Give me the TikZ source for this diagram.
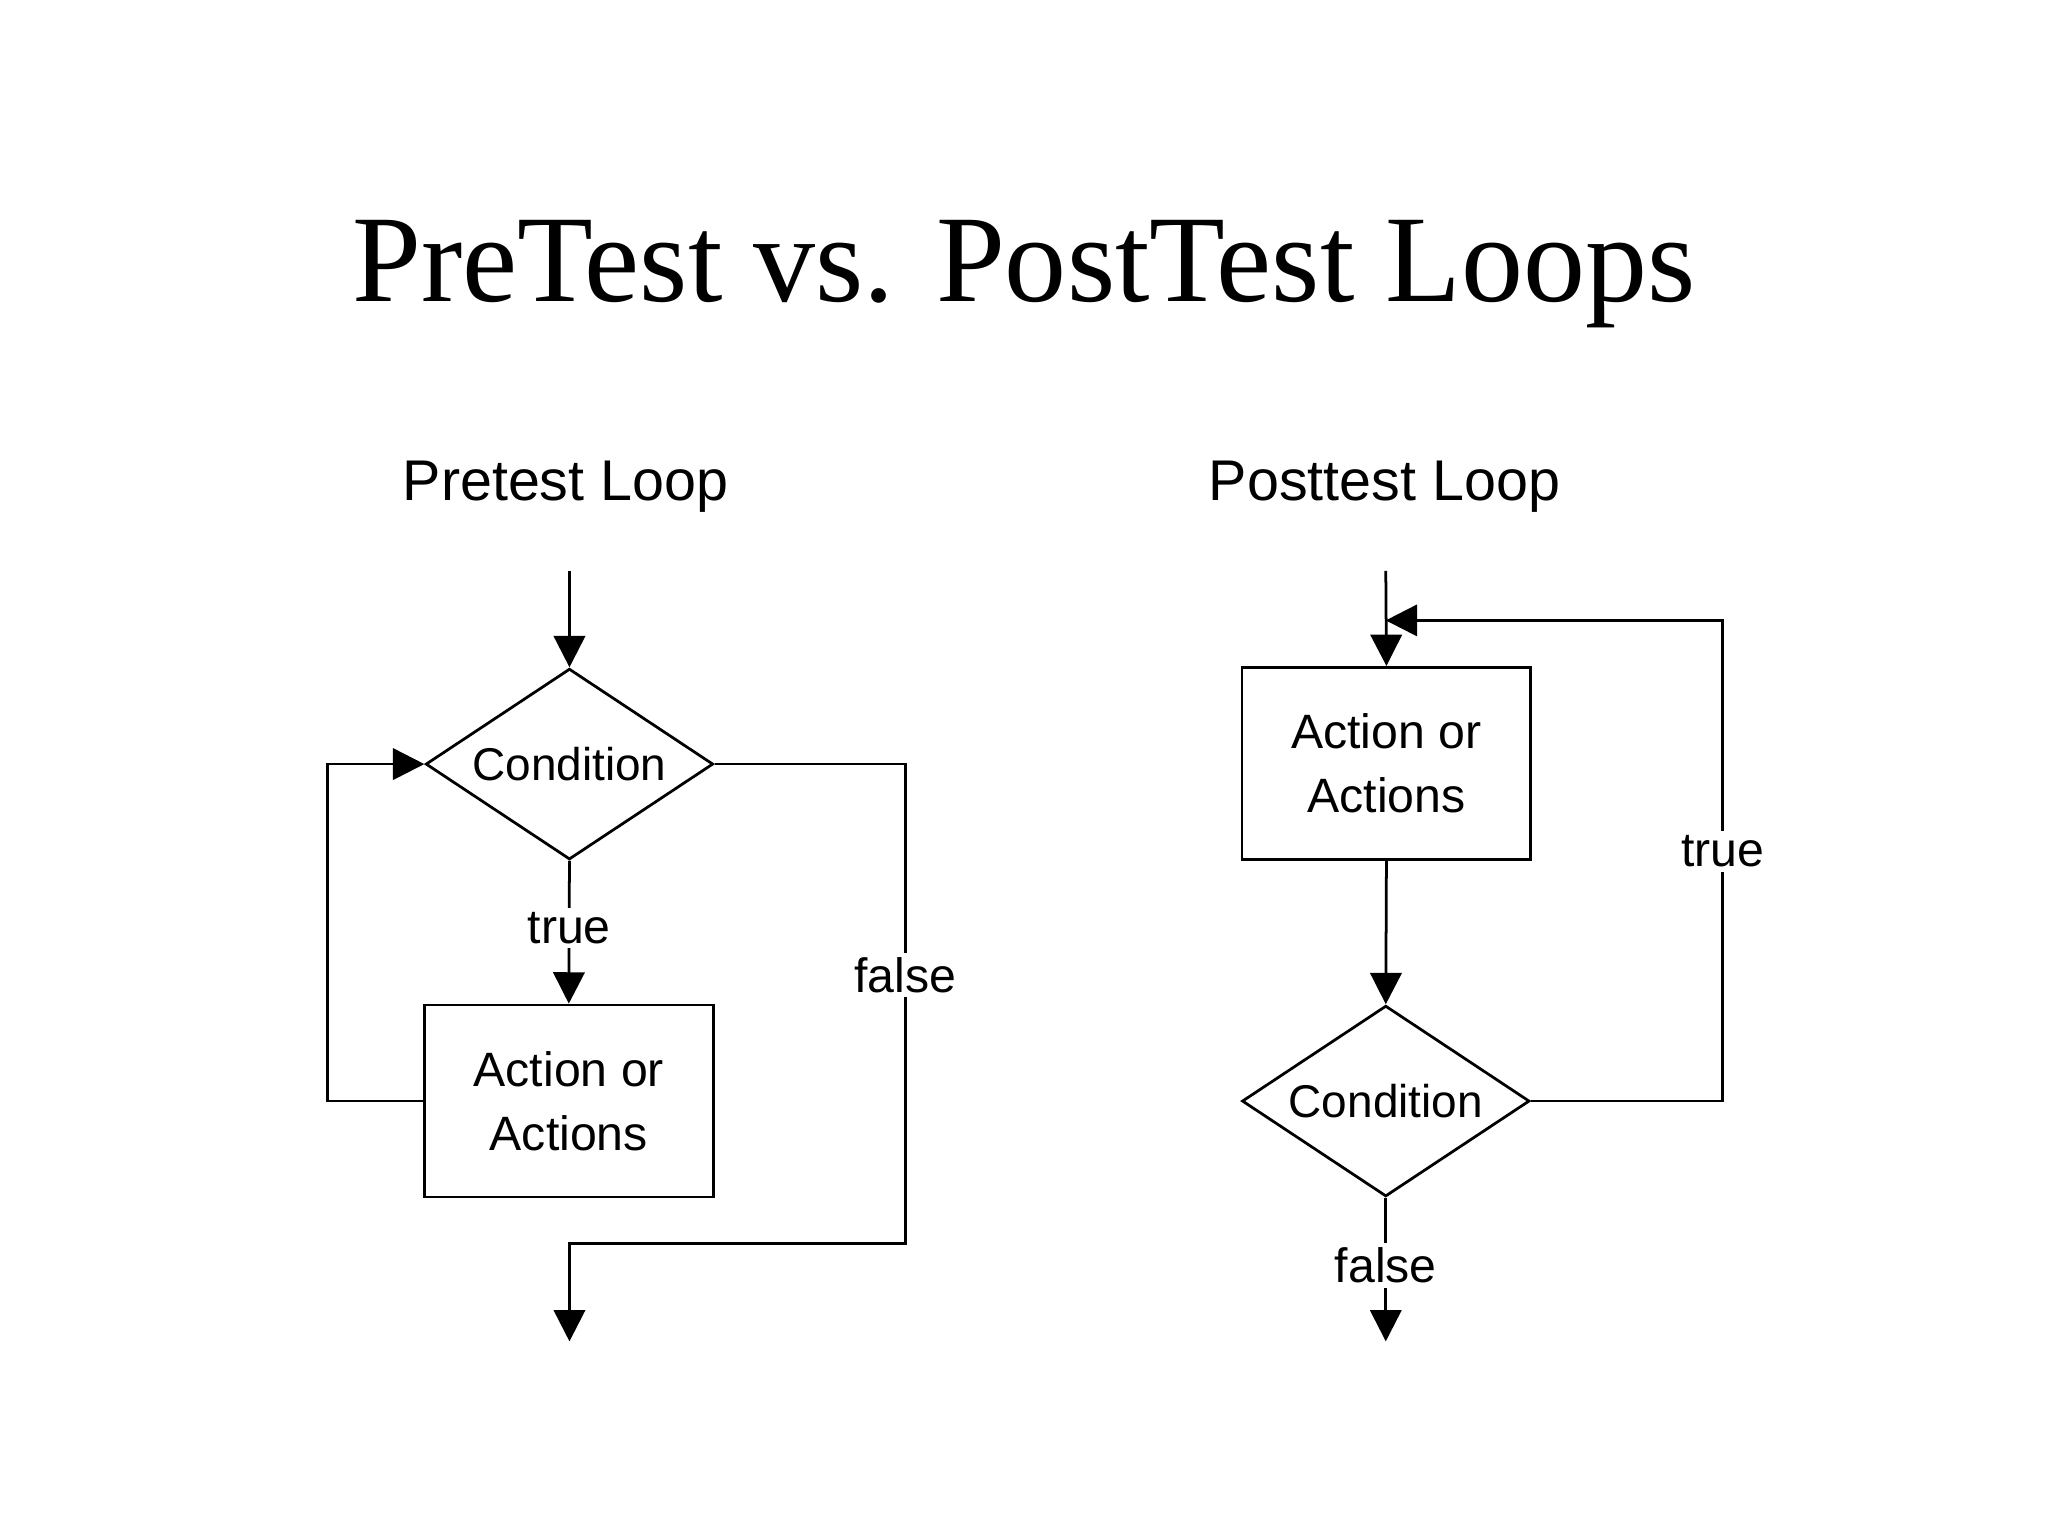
\documentclass[tikz,border=0pt]{standalone}
\usepackage{fontspec}
\setmainfont{Liberation Sans}
\newfontfamily\titlefont{Liberation Serif}
\usetikzlibrary{arrows.meta,shapes.geometric}
\begin{document}
\begin{tikzpicture}[x=0.01cm,y=-0.01cm,
  line/.style={draw=black,line width=0.6pt},
  arr/.style={line,-{Triangle[length=0.24cm,width=0.24cm]}},
  dia/.style={diamond,draw,line width=0.6pt,minimum width=2.2cm,minimum height=1.46cm,inner sep=0pt,aspect=1.5,font=\fontsize{10}{12}\selectfont},
  box/.style={rectangle,draw,line width=0.6pt,minimum width=2.21cm,minimum height=1.47cm,align=center,font=\fontsize{10.5}{14}\selectfont},
  lbl/.style={fill=white,inner sep=1pt,font=\fontsize{10.5}{12}\selectfont},
  hdr/.style={font=\fontsize{12.5}{14}\selectfont}]
\useasboundingbox (0,0) rectangle (1568,1176);
\node[font=\titlefont\fontsize{27}{30}\selectfont] (title) at (784,210) {PreTest vs. PostTest Loops};
\node[hdr] (h1) at (433,373) {Pretest Loop};
\node[hdr] (h2) at (1060,373) {Posttest Loop};
% left
\coordinate (s1) at (436,437);
\node[dia] (c1) at (436,585) {Condition};
\node[box] (a1) at (435.5,843) {Action or\\Actions};
\coordinate (e1) at (436,1027);
\draw[arr] (s1) -- (c1.north);
\draw[arr] (c1.south) -- node[lbl,pos=0.47]{true} (a1.north);
\draw[arr] (a1.west) -- ++(-73,0) |- (c1.west);
\draw[arr] (c1.east) -| (693,952) node[lbl,pos=0.72]{false} -| (e1);
% right
\coordinate (s2) at (1061,437);
\node[box] (a2) at (1061.5,584.5) {Action or\\Actions};
\node[dia] (c2) at (1061,843) {Condition};
\coordinate (e2) at (1061,1027);
\coordinate (m2) at (1061,475);
\draw[arr] (s2) -- (a2.north);
\draw[arr] (a2.south) -- (c2.north);
\draw[arr] (c2.east) -| (1319,475) node[lbl,pos=0.76]{true} -- (m2);
\draw[arr] (c2.south) -- node[lbl,pos=0.47]{false} (e2);
\end{tikzpicture}
\end{document}
